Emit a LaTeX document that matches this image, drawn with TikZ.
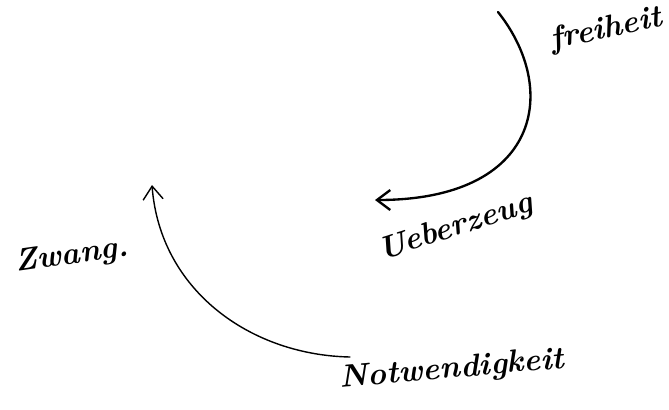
\documentclass[tikz,border=0pt]{standalone}
\usepackage{tikz}
\usetikzlibrary{arrows.meta}
\tikzset{
  wrd/.style={font=\fontsize{27}{32}\selectfont\bfseries\itshape,inner sep=1pt},
  ar/.style={-{Straight Barb[length=4mm,width=6mm]},line width=2pt,line cap=round},
  tar/.style={ar,line width=1.2pt},
}
\begin{document}
\begin{tikzpicture}[x=0.03cm,y=-0.03cm]
  \useasboundingbox (0,0) rectangle (669,409);
  \node[wrd,rotate=12] (frei) at (606,30) {freiheit};
  \node[wrd,rotate=18] (ueber) at (456,228) {Ueberzeug};
  \node[wrd,rotate=8] (zwang) at (72,256) {Zwang.};
  \node[wrd,rotate=5] (notw) at (452,370) {Notwendigkeit};
  \coordinate (f0) at (498,12);
  \coordinate (u0) at (375,200);
  \coordinate (n0) at (350,357);
  \coordinate (z0) at (152,185);
  \draw[ar] (f0) .. controls (560,90) and (540,200) .. (u0);
  \draw[tar] (n0) .. controls (250,355) and (160,290) .. (z0);
\end{tikzpicture}
\end{document}
